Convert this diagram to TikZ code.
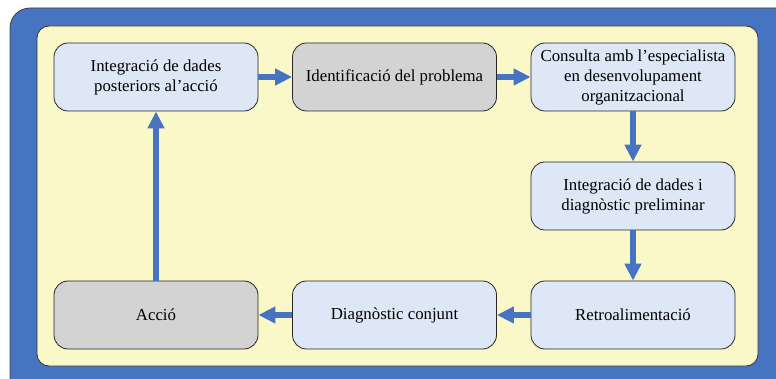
\documentclass[tikz,border=0pt]{standalone}
\usepackage{fontspec}
\setmainfont{Liberation Serif}
\usepackage{xcolor}
\usepackage{tikz}
\usetikzlibrary{arrows.meta,positioning}

\definecolor{frameblue}{RGB}{70,116,193}
\definecolor{paneyellow}{RGB}{250,247,200}
\definecolor{stepblue}{RGB}{221,231,245}
\definecolor{stepgray}{RGB}{211,211,212}

\begin{document}
\begin{tikzpicture}[
    x=0.5pt, y=-0.5pt,
    font=\fontsize{8.4}{10}\selectfont,
    stepbox/.style={draw=black!85, rounded corners=7pt, minimum width=102pt,
                    minimum height=34pt, align=center, inner sep=2pt, fill=stepblue},
    stepgrey/.style={stepbox, fill=stepgray},
    flow/.style={-{Triangle[length=8.5pt, width=8pt]}, line width=2.6pt, draw=frameblue}
]
\useasboundingbox (0,0) rectangle (776,379);

% --- frame: blue border panel and yellow pane ---
\draw[draw=black!75, fill=frameblue, rounded corners=10pt] (10,8) rectangle (800,400);
\draw[draw=black!80, fill=paneyellow, rounded corners=6pt] (37,26) rectangle (758,366);

% --- steps of the cycle ---
\node[stepbox]  (posteriors) at (156,77) {Integració de dades\\posteriors al’acció};
\node[stepgrey] (problema)   at (394.5,77) {Identificació del problema};
\node[stepbox]  (consulta)   at (633,77) {Consulta amb l’especialista\\en desenvolupament\\organitzacional};
\node[stepbox]  (preliminar) at (633,196) {Integració de dades i\\diagnòstic preliminar};
\node[stepbox]  (retro)      at (633,315) {Retroalimentació};
\node[stepbox]  (conjunt)    at (394.5,315) {Diagnòstic conjunt};
\node[stepgrey] (accio)      at (156,315) {Acció};

% connectors
\draw[flow] (posteriors) -- (problema);
\draw[flow] (problema) -- (consulta);
\draw[flow] (consulta) -- (preliminar);
\draw[flow] (preliminar) -- (retro);
\draw[flow] (retro) -- (conjunt);
\draw[flow] (conjunt) -- (accio);
\draw[flow] (accio) -- (posteriors);

\end{tikzpicture}
\end{document}
